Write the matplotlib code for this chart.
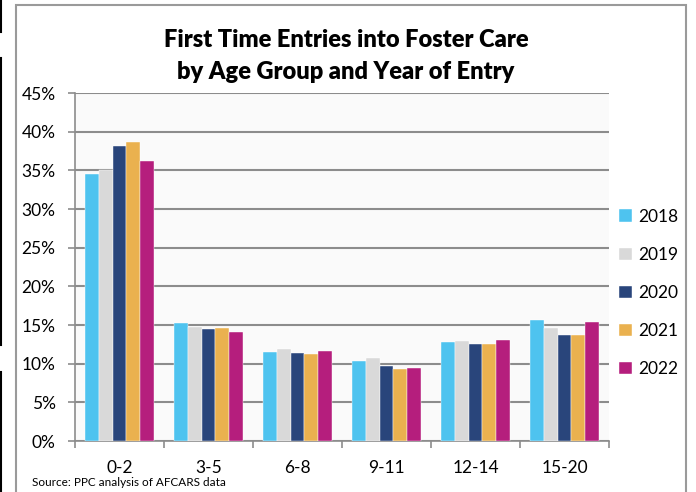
import numpy as np
import matplotlib
matplotlib.use("Agg")
import matplotlib.pyplot as plt
from matplotlib.patches import Rectangle
from matplotlib.lines import Line2D

plt.rcParams['font.family'] = ['Lato', 'DejaVu Sans']

# data
age_groups = ['0-2', '3-5', '6-8', '9-11', '12-14', '15-20']
years = ['2018', '2019', '2020', '2021', '2022']
share_2018 = [34.5, 15.3, 11.5, 10.35, 12.75, 15.6]
share_2019 = [35.1, 14.8, 11.85, 10.7, 12.9, 14.55]
share_2020 = [38.2, 14.5, 11.4, 9.65, 12.5, 13.65]
share_2021 = [38.6, 14.65, 11.25, 9.25, 12.6, 13.7]
share_2022 = [36.2, 14.1, 11.7, 9.45, 13.0, 15.45]
colors = ['#4EC3EF', '#D9D9D9', '#29457B', '#EAB14F', '#B51E7D']

series = [share_2018, share_2019, share_2020, share_2021, share_2022]

fig = plt.figure(figsize=(6.96, 4.92), dpi=100)
ax = fig.add_axes([75 / 696, 1 - 441 / 492, 534 / 696, 348 / 492])
ax.set_facecolor('#FAFAFA')

x = np.arange(len(age_groups))
w = 0.154
for i, (vals, yr, c) in enumerate(zip(series, years, colors)):
    ax.bar(x + (i - 2) * w, vals, width=w, color=c, label=yr,
           edgecolor='white', linewidth=0.3, zorder=3)

ax.set_xlim(-0.5, len(age_groups) - 0.5)
ax.set_ylim(0, 45)
ax.set_yticks(np.arange(0, 46, 5))
ax.set_yticklabels([f'{v}%' for v in range(0, 46, 5)], fontsize=12.5)
ax.yaxis.grid(True, color='#8C8C8C', linewidth=1.5, zorder=0)
ax.tick_params(axis='y', length=5, width=1.2, color='#8C8C8C', pad=9)

# category boundaries get the tick marks, centres get the labels
ax.set_xticks(np.arange(-0.5, len(age_groups), 1.0))
ax.set_xticklabels([])
ax.set_xticks(x, minor=True)
ax.set_xticklabels(age_groups, minor=True, fontsize=12.5)
ax.tick_params(axis='x', which='major', length=5, width=1.2, color='#8C8C8C')
ax.tick_params(axis='x', which='minor', length=0, pad=14)

for s in ['top', 'right']:
    ax.spines[s].set_visible(False)
for s in ['left', 'bottom']:
    ax.spines[s].set_color('#8C8C8C')
    ax.spines[s].set_linewidth(1.2)

fig.text(0.497, 0.918, 'First Time Entries into Foster Care',
         ha='center', va='center', fontsize=17, fontweight='heavy')
fig.text(0.497, 0.853, 'by Age Group and Year of Entry',
         ha='center', va='center', fontsize=17, fontweight='heavy')

leg = fig.legend(loc='center left', bbox_to_anchor=(619 / 696, 1 - 293 / 492),
                 frameon=False, fontsize=12.5, handlelength=0.75,
                 handleheight=0.75, handletextpad=0.35, labelspacing=1.27,
                 borderpad=0, borderaxespad=0)

fig.text(32 / 696, 1 - 483 / 492, 'Source: PPC analysis of AFCARS data',
         ha='left', va='center', fontsize=8.5)

# outer chart frame
fig.patches.append(Rectangle((16 / 696, -0.05), 670 / 696, 1.05 - 5 / 492,
                             transform=fig.transFigure, fill=False,
                             edgecolor='#9A9A9A', linewidth=1.5))

# dark strip at the left edge of the screenshot
for y0, y1 in [(0, 32), (58, 345), (372, 492)]:
    fig.lines.append(Line2D([1 / 696, 1 / 696], [1 - y0 / 492, 1 - y1 / 492],
                            transform=fig.transFigure, color='black', linewidth=1.5))

fig.savefig('out.png', dpi=100)
